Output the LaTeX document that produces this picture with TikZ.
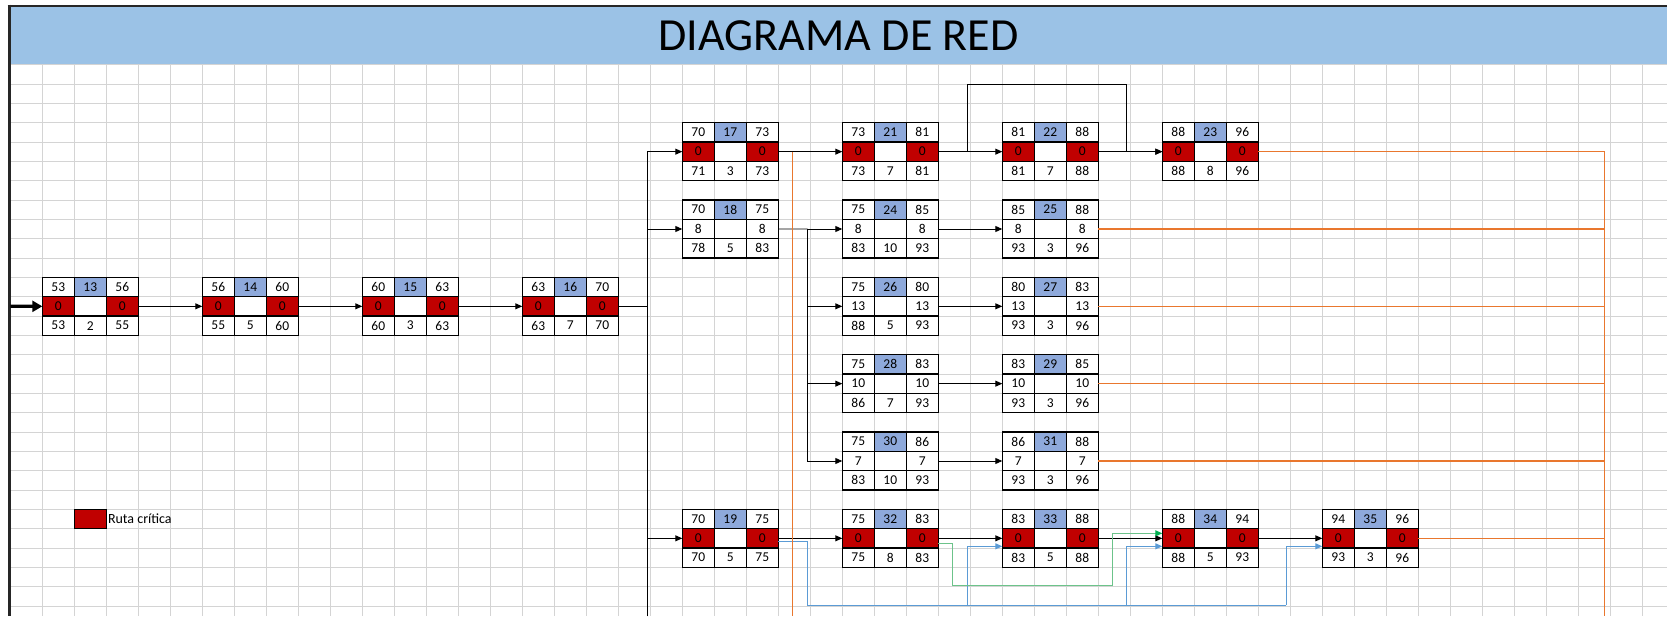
\documentclass[tikz,border=0pt]{standalone}
\usepackage{fontspec}
\setmainfont{Carlito}
\usepackage{tikz}
\usetikzlibrary{arrows.meta,positioning}

\definecolor{rojo}{HTML}{C00000}
\definecolor{azulc}{HTML}{8EA9DB}
\definecolor{cabecera}{HTML}{9BC2E6}
\definecolor{rejilla}{HTML}{D4D4D4}
\definecolor{naranja}{HTML}{E9772E}
\definecolor{azul}{HTML}{5B9BD5}
\definecolor{verde}{HTML}{6CC38A}
\definecolor{verdef}{HTML}{00B050}

\begin{document}
\begin{tikzpicture}
[x=1pt,y=-1pt]

    \tikzstyle{celda}=[draw,line width=1.1pt,fill=white,minimum width=32pt,
                       minimum height=19.333pt,inner sep=0pt,outer sep=0pt,
                       font=\fontsize{13.5}{16}\selectfont]
    \tikzstyle{linea}=[line width=0.9pt]
    \tikzstyle{flecha}=[line width=0.9pt,-{Triangle[length=7pt,width=6pt]}]
    \tikzstyle{entrada}=[line width=3.2pt,-{Triangle[length=10pt,width=11pt]}]
    \tikzstyle{flechaaz}=[azul,line width=1pt,-{Triangle[length=7pt,width=6pt]}]
    \tikzstyle{flechav}=[verde,line width=1.2pt,
                         -{Triangle[length=7pt,width=6pt,color=verdef]}]
    \tikzstyle{naranjal}=[naranja,line width=1.2pt]

    \useasboundingbox (0,0) rectangle (1667,616);

    % hoja: cabecera y rejilla
    \fill[cabecera] (10.3,5) rectangle (1667,64.67);
    \foreach \i in {1,...,51}
        \draw[rejilla,line width=0.9pt] ({10.3+32*\i},64.67) -- ({10.3+32*\i},616);
    \foreach \j in {0,...,28}
        \draw[rejilla,line width=0.9pt] (10.3,{64.67+19.333*\j}) -- (1667,{64.67+19.333*\j});
    \draw[black!85,line width=2pt] (7.5,5.5) -- (1667,5.5);
    \draw[black!85,line width=2.6pt] (9.2,4.6) -- (9.2,616);

    \node (titulo) at (838.6,36) {\fontsize{46}{50}\selectfont DIAGRAMA DE RED};

    % leyenda
    \node[celda,fill=rojo] (leyenda) at (90.3,519) {};
    \node[right=1.5pt of leyenda,inner sep=0pt,font=\fontsize{14}{16}\selectfont]
        (ruta) {Ruta crítica};

    % actividades: n / columna / fila / ES / EF / holgura / LS / duracion / LF / color
    \foreach \n/\cc/\ff/\es/\ef/\hh/\ls/\du/\lf/\rc in {
        13/1/11/53/56/0/53/2/55/rojo,
        14/6/11/56/60/0/55/5/60/rojo,
        15/11/11/60/63/0/60/3/63/rojo,
        16/16/11/63/70/0/63/7/70/rojo,
        17/21/3/70/73/0/71/3/73/rojo,
        18/21/7/70/75/8/78/5/83/white,
        19/21/23/70/75/0/70/5/75/rojo,
        21/26/3/73/81/0/73/7/81/rojo,
        22/31/3/81/88/0/81/7/88/rojo,
        23/36/3/88/96/0/88/8/96/rojo,
        24/26/7/75/85/8/83/10/93/white,
        25/31/7/85/88/8/93/3/96/white,
        26/26/11/75/80/13/88/5/93/white,
        27/31/11/80/83/13/93/3/96/white,
        28/26/15/75/83/10/86/7/93/white,
        29/31/15/83/85/10/93/3/96/white,
        30/26/19/75/86/7/83/10/93/white,
        31/31/19/86/88/7/93/3/96/white,
        32/26/23/75/83/0/75/8/83/rojo,
        33/31/23/83/88/0/83/5/88/rojo,
        34/36/23/88/94/0/88/5/93/rojo,
        35/41/23/94/96/0/93/3/96/rojo}{
        \node[celda] (es\n) at ({26.3+32*\cc},{74.33+19.333*\ff}) {\es};
        \node[celda,fill=azulc] (id\n) [right=0pt of es\n] {\n};
        \node[celda] (ef\n) [right=0pt of id\n] {\ef};
        \node[celda,fill=\rc] (hi\n) [below=0pt of es\n] {\hh};
        \node[celda] (hc\n) [below=0pt of id\n] {};
        \node[celda,fill=\rc] (hd\n) [below=0pt of ef\n] {\hh};
        \node[celda] (ls\n) [below=0pt of hi\n] {\ls};
        \node[celda] (du\n) [below=0pt of hc\n] {\du};
        \node[celda] (lf\n) [below=0pt of hd\n] {\lf};
    }

    % ruta de entrada
    \coordinate (inicio) at (10.3,306.3);
    \draw[entrada] (inicio) -- (hi13.west);
    \draw[flecha] (hd13.east) -- (hi14.west);
    \draw[flecha] (hd14.east) -- (hi15.west);
    \draw[flecha] (hd15.east) -- (hi16.west);

    % reparto desde 16
    \coordinate (bus) at (647.3,616);
    \draw[linea] (hd16.east) -| (bus);
    \foreach \t in {17,18,19}
        \draw[flecha] (bus) |- (hi\t.west);

    % reparto desde 18
    \coordinate (r18) at (807.7,229);
    \draw[linea] (hd18.east) -- (r18);
    \foreach \t in {24,26,28,30}
        \draw[flecha] (r18) |- (hi\t.west);
    \foreach \a/\b in {24/25,26/27,28/29,30/31}
        \draw[flecha] (hd\a.east) -- (hi\b.west);

    % fila superior
    \coordinate (l1) at (967,84);
    \coordinate (l2) at (1126.3,84);
    \draw[flecha] (hd17.east) -- (hi21.west);
    \draw[flecha] (hd21.east) -- (hi22.west);
    \draw[flecha] (hd22.east) -- (hi23.west);
    \draw[flecha] (hd21.east) -| (l1) -- (l2) |- (hi23.west);

    % fila inferior
    \draw[flecha] (hd19.east) -- (hi32.west);
    \draw[flecha] (hd32.east) -- (hi33.west);
    \draw[flecha] (hd33.east) -- (hi34.west);
    \draw[flecha] (hd34.east) -- (hi35.west);

    \coordinate (az1) at (807.7,605.3);
    \coordinate (b33) at (967,605.3);
    \coordinate (b34) at (1126.7,605.3);
    \coordinate (b35) at (1286,605.3);
    \draw[azul,line width=1pt] ([yshift=-3pt]hd19.east) -| (az1) -- (b35);
    \foreach \t in {33,34,35}
        \draw[flechaaz] (b\t) |- ([yshift=-8pt]hi\t.west);

    \coordinate (v1) at (952.7,585.7);
    \coordinate (v2) at (1112.3,585.7);
    \draw[flechav] ([yshift=-5pt]hd32.east) -| (v1) -- (v2) |- ([yshift=5pt]hi34.west);

    % salidas en naranja
    \coordinate (o17) at (792.5,616);
    \draw[naranjal] (hd17.east -| o17) -- (o17);
    \coordinate (fin) at (1604.5,616);
    \foreach \t in {23,25,27,29,31,35}
        \draw[naranjal] (hd\t.east) -| (fin);

\end{tikzpicture}
\end{document}
